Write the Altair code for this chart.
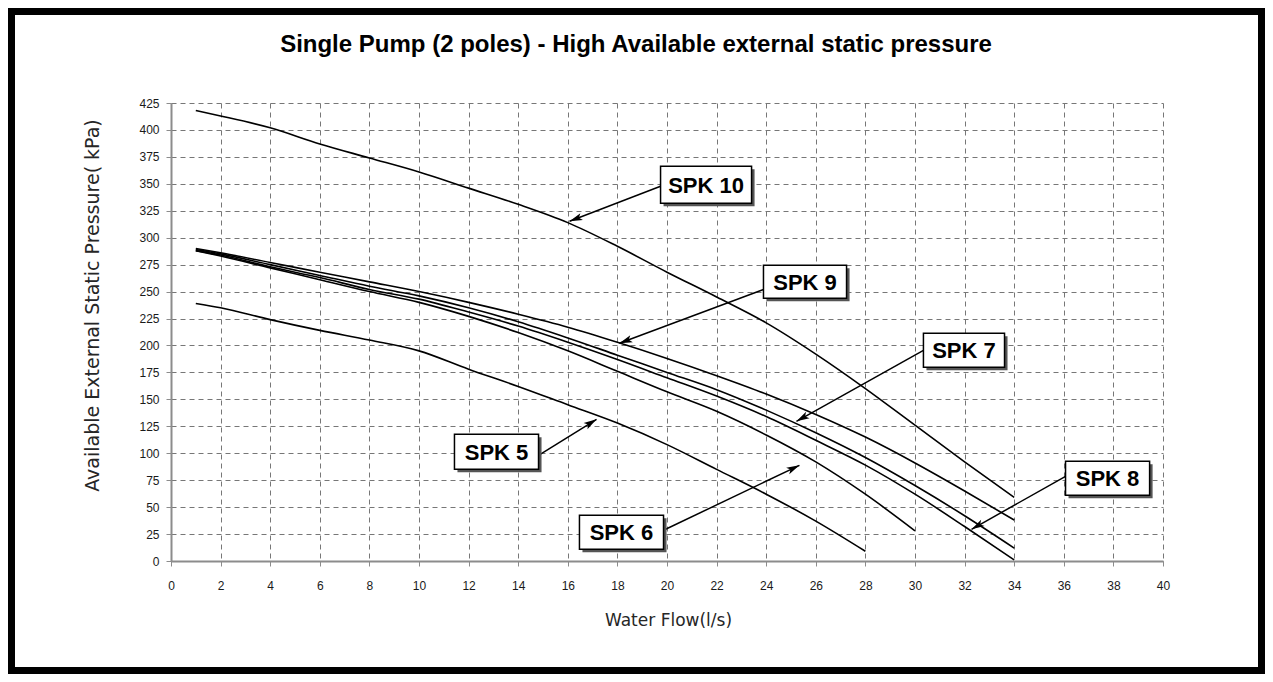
import math
import altair as alt
import pandas as pd

# ---------------- data ----------------
flow_34 = [1, 2, 4, 6, 8, 10, 12, 14, 16, 18, 20, 22, 24, 26, 28, 30, 32, 34]
flow_30 = [1, 2, 4, 6, 8, 10, 12, 14, 16, 18, 20, 22, 24, 26, 28, 30]
flow_28 = [1, 2, 4, 6, 8, 10, 12, 14, 16, 18, 20, 22, 24, 26, 28]

spk10 = [418, 413, 402, 387, 374, 361, 346, 331, 314, 292, 268, 245, 221, 192, 160, 126, 92, 59]
spk9 = [290, 286, 277, 268, 259, 250, 240, 229, 217, 203, 188, 172, 155, 136, 115, 91, 65, 38]
spk7 = [289, 285, 275, 265, 255, 246, 235, 222, 207, 191, 175, 159, 140, 119, 96, 70, 42, 12]
spk8 = [288, 284, 273, 263, 252, 243, 231, 218, 203, 187, 170, 153, 134, 112, 89, 62, 32, 1]
spk6 = [288, 283, 272, 261, 250, 240, 227, 212, 195, 176, 157, 139, 117, 92, 62, 28]
spk5 = [239, 235, 224, 214, 205, 195, 178, 162, 145, 128, 108, 85, 62, 37, 9]

x_ticks = list(range(0, 41, 2))
y_ticks = list(range(0, 426, 25))

# callouts: label, box corners, arrow start and arrow tip (data units)
ann_labels = ["SPK 10", "SPK 9", "SPK 7", "SPK 5", "SPK 6", "SPK 8"]
ann_box_x1 = [19.74, 23.89, 30.34, 11.43, 16.47, 36.07]
ann_box_x2 = [23.41, 27.24, 33.61, 14.82, 19.86, 39.46]
ann_box_top = [366.3, 274.4, 211.3, 117.6, 42.4, 92.5]
ann_box_bot = [331.9, 243.8, 179.8, 85.1, 10.9, 60.9]
ann_start_x = [19.74, 23.89, 30.34, 14.82, 19.86, 36.07]
ann_start_y = [347.7, 252.0, 195.5, 98.1, 28.5, 78.6]
ann_tip_x = [16.07, 18.08, 25.22, 17.16, 25.34, 32.28]
ann_tip_y = [315.3, 202.0, 129.6, 131.5, 88.8, 29.4]

TITLE = "Single Pump (2 poles) - High Available external static pressure"
X_TITLE = "Water Flow(l/s)"
Y_TITLE = "Available External Static Pressure( kPa)"

# ---------------- layout ----------------
W, H = 992, 458
PAD = {"left": 163, "top": 95, "right": 102, "bottom": 113}
XMAX, YMAX = 40, 425

rows = []
for name, xs, ys in [("SPK 10", flow_34, spk10), ("SPK 9", flow_34, spk9),
                     ("SPK 7", flow_34, spk7), ("SPK 8", flow_34, spk8),
                     ("SPK 6", flow_30, spk6), ("SPK 5", flow_28, spk5)]:
    for xv, yv in zip(xs, ys):
        rows.append({"series": name, "flow": xv, "pressure": yv})
curves = pd.DataFrame(rows)

ann = pd.DataFrame({
    "label": ann_labels,
    "bx1": ann_box_x1, "bx2": ann_box_x2,
    "by1": ann_box_top, "by2": ann_box_bot,
    "sx": ann_start_x, "sy": ann_start_y,
    "tx": ann_tip_x, "ty": ann_tip_y,
})
ann["cx"] = (ann["bx1"] + ann["bx2"]) / 2
ann["cy"] = (ann["by1"] + ann["by2"]) / 2
ppx, ppy = W / XMAX, H / YMAX
ann["angle"] = [
    math.degrees(math.atan2((tx - sx) * ppx, (ty - sy) * ppy)) % 360
    for sx, sy, tx, ty in zip(ann["sx"], ann["sy"], ann["tx"], ann["ty"])
]

xs_scale = alt.Scale(domain=[0, XMAX], nice=False, zero=False)
ys_scale = alt.Scale(domain=[0, YMAX], nice=False, zero=False)

common_axis = dict(
    grid=True, gridColor="#777777", gridDash=[5, 4], gridWidth=1,
    domainColor="#8c8c8c", domainWidth=2, tickColor="#8c8c8c", tickSize=5, tickWidth=1,
    labelFont="Liberation Sans", labelFontSize=12, labelColor="#1a1a1a",
    titleFont="DejaVu Sans", titleFontWeight="normal", titleColor="#262626",
    titleAlign="center", titleBaseline="middle", format="d", labelFlush=False,
)

x_axis = alt.Axis(values=x_ticks, title=X_TITLE, labelPadding=14, titleFontSize=17,
                  titleX=497, titleY=59, **common_axis)
y_axis = alt.Axis(values=y_ticks, title=Y_TITLE, labelPadding=7, titleFontSize=19,
                  titleX=-79, titleY=202, titleAngle=270, **common_axis)


def X(field):
    return alt.X(field, scale=xs_scale, axis=x_axis, title=X_TITLE)


def Y(field):
    return alt.Y(field, scale=ys_scale, axis=y_axis, title=Y_TITLE)


lines = alt.Chart(curves).mark_line(color="black", strokeWidth=1.6, interpolate="monotone").encode(
    x=X("flow:Q"), y=Y("pressure:Q"), detail="series:N",
)

arrows = alt.Chart(ann).mark_rule(color="black", strokeWidth=1.5).encode(
    x=X("sx:Q"), y=Y("sy:Q"), x2="tx:Q", y2="ty:Q",
)

heads = alt.Chart(ann).mark_point(
    shape="M0,0L0.42,1.5L0,1.15L-0.42,1.5Z", filled=True, color="black",
    size=300, opacity=1,
).encode(
    x=X("tx:Q"), y=Y("ty:Q"), angle=alt.Angle("angle:Q", scale=None),
)

shadows = alt.Chart(ann).mark_rect(
    color="#555555", xOffset=3, x2Offset=3, yOffset=3, y2Offset=3
).encode(
    x=X("bx1:Q"), x2="bx2:Q", y=Y("by1:Q"), y2="by2:Q",
)

boxes = alt.Chart(ann).mark_rect(fill="white", stroke="black", strokeWidth=1.5).encode(
    x=X("bx1:Q"), x2="bx2:Q", y=Y("by1:Q"), y2="by2:Q",
)

box_text = alt.Chart(ann).mark_text(
    font="Liberation Sans", fontSize=22, fontWeight="bold", color="black",
    align="center", baseline="middle", dy=1,
).encode(
    x=X("cx:Q"), y=Y("cy:Q"), text="label:N",
)

one = pd.DataFrame({"t": [TITLE]})
title = alt.Chart(one).mark_text(
    font="Liberation Sans", fontSize=24, fontWeight="bold", color="black",
    align="center", baseline="middle",
).encode(x=alt.value(465), y=alt.value(-58), text="t:N")

frame = alt.Chart(one).mark_rect(fill="transparent", stroke="black", strokeWidth=7).encode(
    x=alt.value(-PAD["left"] + 3.5), x2=alt.value(W + PAD["right"] - 3.5),
    y=alt.value(-PAD["top"] + 3.5), y2=alt.value(H + PAD["bottom"] - 3.5),
)

chart = alt.layer(lines, arrows, heads, shadows, boxes, box_text, title, frame).properties(
    width=W, height=H,
    autosize=alt.AutoSizeParams(type="none"),
    padding=PAD,
    background="white",
).configure_view(strokeWidth=0)

chart.save("out.html", embed_options={"renderer": "svg", "actions": False})
